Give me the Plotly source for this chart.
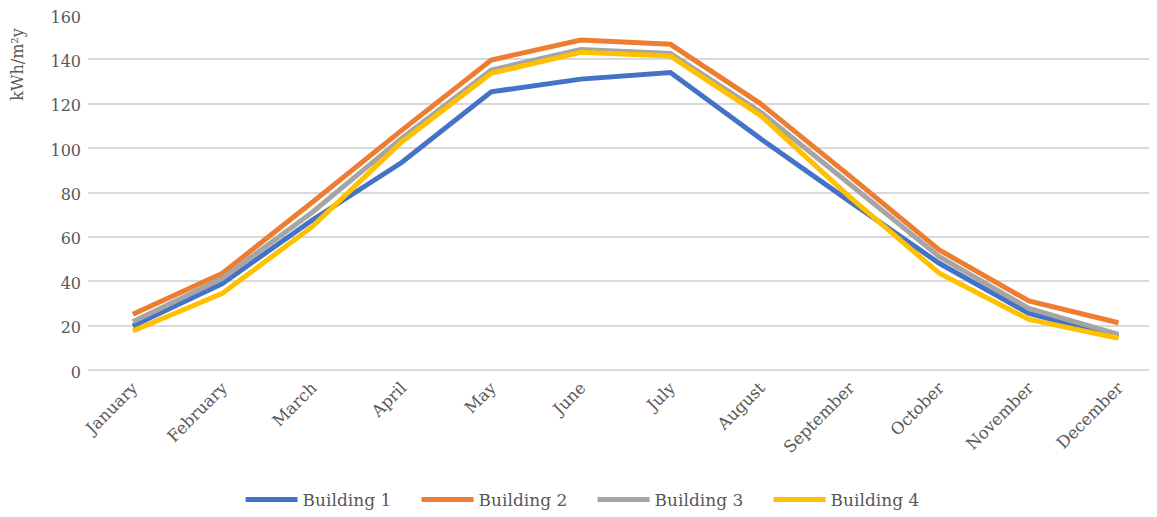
import plotly.graph_objects as go

months = ["January", "February", "March", "April", "May", "June",
          "July", "August", "September", "October", "November", "December"]

building_1 = [19.8, 39.0, 67.5, 93.5, 125.4, 131.1, 134.1, 104.4, 76.0, 48.1, 25.5, 15.0]
building_2 = [25.1, 43.6, 75.5, 108.0, 139.7, 148.7, 146.8, 120.2, 87.5, 54.1, 31.1, 21.3]
building_3 = [21.8, 41.3, 71.0, 104.4, 135.2, 144.5, 142.7, 116.4, 83.8, 51.1, 27.8, 16.1]
building_4 = [17.6, 34.6, 64.5, 102.8, 133.7, 143.2, 141.5, 114.9, 78.0, 43.6, 22.8, 14.3]

series = [
    ("Building 1", building_1, "#4472C4"),
    ("Building 2", building_2, "#ED7D31"),
    ("Building 3", building_3, "#A5A5A5"),
    ("Building 4", building_4, "#FFC000"),
]

font_family = "DejaVu Serif"
text_color = "#595959"

fig = go.Figure()
for name, vals, color in series:
    fig.add_trace(go.Scatter(
        x=months, y=vals, name=name, mode="lines",
        line=dict(color=color, width=5),
    ))

# page body has an 8px margin, so the margins below are offset by it
fig.update_layout(
    width=1157, height=517,
    margin=dict(l=80, r=8, t=7, b=155),
    plot_bgcolor="white", paper_bgcolor="white",
    font=dict(family=font_family, color=text_color, size=16),
    showlegend=True,
    legend=dict(
        orientation="h", x=0.472, xanchor="center", y=-0.366, yanchor="middle",
        font=dict(size=17, color=text_color), itemwidth=52,
        entrywidth=109, entrywidthmode="pixels",
        traceorder="normal",
    ),
    xaxis=dict(
        range=[-0.5, 11.43], tickangle=-45, showgrid=False, automargin=False,
        showline=False, ticks="", ticklabelstandoff=4,
        tickfont=dict(size=16.5, color=text_color),
    ),
    yaxis=dict(
        range=[0, 160], dtick=20, showgrid=True, gridcolor="#D9D9D9", gridwidth=1.5,
        zeroline=True, zerolinecolor="#D9D9D9", zerolinewidth=1.5, automargin=False,
        showline=False, ticks="", ticklabelstandoff=6, ticklabeloverflow="allow",
        ticklabelshift=2,
        tickfont=dict(size=16, color=text_color),
    ),
    annotations=[dict(
        text="kWh/m²y", textangle=-90, xref="paper", yref="paper",
        x=-0.0655, y=0.86, xanchor="center", yanchor="middle",
        showarrow=False, font=dict(size=16, color=text_color),
    )],
)

fig.write_html("out.html")
